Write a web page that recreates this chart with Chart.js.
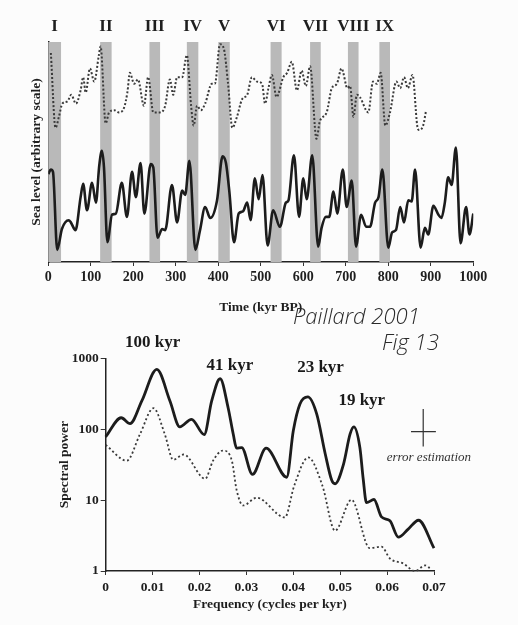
<!DOCTYPE html>
<html>
<head>
<meta charset="utf-8">
<script src="https://cdn.jsdelivr.net/npm/chart.js@4.4.0/dist/chart.umd.min.js"></script>
<style>
  html, body { margin: 0; padding: 0; background: #fcfcfc; }
  body { width: 518px; height: 625px; position: relative; overflow: hidden; }
  .box { position: absolute; left: 0; width: 518px; }
  .hand { position: absolute; font-family: "Open Sans", sans-serif; font-style: italic; font-weight: 300; color: #2a2a2a; white-space: nowrap; }
</style>
</head>
<body>
<div class="box" style="top:0;height:320px"><canvas id="seaChart"></canvas></div>
<div class="box" style="top:320px;height:305px"><canvas id="specChart"></canvas></div>
<div class="hand" style="left:293px;top:300px;font-size:22px">Paillard 2001</div>
<div class="hand" style="left:382px;top:326px;font-size:22px">Fig 13</div>
<script>
// --- top panel: sea level vs time (arbitrary scale) ---
const seaTime = [0, 6, 11, 21, 32, 48, 53, 64, 76, 82, 91, 103, 112, 120, 126, 131, 139, 150, 159, 173,
    185, 197, 206, 217, 226, 241, 247, 257, 268, 275, 291, 303, 315, 322, 332, 346, 357, 369, 381, 397,
    410, 418, 426, 437, 448, 458, 468, 476, 486, 495, 504, 516, 529, 545, 559, 565, 578, 590, 600, 608,
    621, 635, 643, 653, 661, 671, 680, 693, 702, 714, 724, 736, 748, 757, 769, 777, 786, 800, 809, 818,
    828, 837, 847, 855, 863, 876, 886, 894, 906, 918, 925, 933, 941, 949, 959, 970, 983, 991, 1000];
const seaLevel = [40, 42, 41, 5.5, 15, 19, 18, 14.5, 29.5, 35.5, 23.5, 36, 27, 44, 50.5, 43, 9, 21.5, 22, 36,
    20.5, 41, 29.5, 45, 22, 44.5, 43, 11, 15, 14.5, 35, 18, 32.5, 30.5, 46, 5.5, 14.5, 25, 20, 28,
    48, 45, 32, 9, 22, 23, 27, 19, 38, 28.5, 39.5, 7.5, 23.5, 16, 27, 28, 48.5, 20.5, 38, 28.5,
    48.5, 7, 15.5, 20.5, 20.5, 32, 22, 42, 25, 37, 7, 21.5, 16, 16, 27, 29.5, 42, 6.5, 13.5, 14.5,
    25, 18, 28, 27.5, 42, 6.5, 15.5, 12.5, 25.5, 21.5, 20, 27, 38.5, 35, 52, 8.5, 25, 12.5, 22];

const dotTime = [6, 17, 25, 33, 45, 54, 65, 76, 82, 88, 98, 108, 119, 123, 135, 143, 155, 166, 178, 186,
    192, 202, 211, 225, 235, 247, 263, 275, 286, 294, 303, 315, 326, 336, 342, 350, 359, 369, 385, 392,
    404, 413, 423, 433, 444, 456, 468, 479, 491, 503, 510, 518, 526, 537, 553, 562, 573, 585, 596, 606,
    616, 631, 639, 655, 667, 679, 690, 704, 710, 718, 726, 733, 753, 764, 773, 782, 793, 804, 819, 828,
    837, 846, 857, 868, 872, 882, 889];
const dotLevel = [95, 61, 66, 72, 73, 76, 72, 78, 84, 77, 88, 82, 94, 98, 63, 68, 69, 68, 70, 77,
    86, 81, 83, 71, 84, 68, 68, 71, 83, 76, 84, 84, 94, 71, 62, 71, 69, 72, 81, 81,
    99, 97, 81, 61, 66, 74, 76, 84, 82, 81, 72, 79, 85, 75, 84, 86, 91, 78, 87, 80,
    89, 56, 64, 68, 79, 81, 88, 79, 80, 66, 76, 75, 68, 82, 81, 86, 62, 68, 82, 79,
    84, 79, 85, 62, 60, 62, 69];

// glacial terminations (grey bands)
const termNames = ['I', 'II', 'III', 'IV', 'V', 'VI', 'VII', 'VIII', 'IX'];
const termStart = [0, 122, 238, 326, 400, 523, 616, 705, 779];
const termEnd = [30, 149, 263, 353, 427, 549, 641, 730, 804];

// --- bottom panel: spectra ---
const solidFreq = [0, 0.0033, 0.0052, 0.0077, 0.0109, 0.0137, 0.0158, 0.0183, 0.021, 0.0226, 0.0244, 0.0261, 0.0272,
    0.0279, 0.029, 0.0313, 0.0342, 0.0386, 0.04, 0.0414, 0.0431, 0.045, 0.0468, 0.0482, 0.0489, 0.0507,
    0.0521, 0.0529, 0.0542, 0.0549, 0.0556, 0.0572, 0.0588, 0.0606, 0.0624, 0.0645, 0.0667, 0.07];
const solidPower = [78, 145, 120, 250, 697, 250, 108, 138, 84, 250, 515, 201, 85,
    54, 55, 23, 54, 21, 95, 225, 285, 163, 45, 19, 17, 32,
    85, 108, 55, 20, 9.2, 10.2, 5.8, 5.1, 3.0, 3.9, 5.2, 2.1];

const dottedFreq = [0, 0.0045, 0.0073, 0.0102, 0.0126, 0.0144, 0.0166, 0.0212, 0.0229, 0.025, 0.0269, 0.0279, 0.0293,
    0.0322, 0.0382, 0.0402, 0.0432, 0.0462, 0.0489, 0.0524, 0.0563, 0.0588, 0.0606, 0.0634, 0.066, 0.0681, 0.0691];
const dottedPower = [60, 36, 85, 198, 85, 37, 44, 20, 36, 50, 36, 14, 8.4,
    10.8, 5.7, 16, 40, 16, 3.7, 10.1, 2.1, 2.2, 1.5, 1.28, 1.0, 1.2, 1.1];

const peakNames = ['100 kyr', '41 kyr', '23 kyr', '19 kyr'];
const peakFreq = [0.01, 0.0265, 0.0458, 0.0546];
const peakPower = [1660, 780, 740, 252];

const powerTicks = [1, 10, 100, 1000];

// error bar (frequency, power)
const errFreq = [0.0651, 0.0677, 0.0704];
const errPower = [57, 92.5, 193];

Chart.defaults.font.family = '"Liberation Serif", "Times New Roman", serif';
Chart.defaults.color = '#1e1e1e';

const serif = '"Liberation Serif", "Times New Roman", serif';

const termBands = {
    id: 'termBands',
    beforeDatasetsDraw(chart) {
        const { ctx, chartArea, scales: { x } } = chart;
        ctx.save();
        ctx.fillStyle = '#b9b9b9';
        termStart.forEach((s, i) => {
            const x0 = x.getPixelForValue(s);
            const x1 = x.getPixelForValue(termEnd[i]);
            ctx.fillRect(x0, chartArea.top, x1 - x0, chartArea.bottom - chartArea.top);
        });
        ctx.restore();
    },
    afterDraw(chart) {
        const { ctx, chartArea, scales: { x } } = chart;
        ctx.save();
        ctx.font = 'bold 17px ' + serif;
        ctx.fillStyle = '#1e1e1e';
        ctx.textAlign = 'center';
        ctx.textBaseline = 'middle';
        termNames.forEach((name, i) => {
            ctx.fillText(name, x.getPixelForValue((termStart[i] + termEnd[i]) / 2), chartArea.top - 15);
        });
        ctx.restore();
    }
};

new Chart(document.getElementById('seaChart'), {
    type: 'line',
    data: {
        datasets: [
            {
                data: seaTime.map((t, i) => ({ x: t, y: seaLevel[i] })),
                borderColor: '#1c1c1c',
                borderWidth: 2.6,
                pointRadius: 0,
                cubicInterpolationMode: 'monotone'
            },
            {
                data: dotTime.map((t, i) => ({ x: t, y: dotLevel[i] })),
                borderColor: '#3a3a3a',
                borderWidth: 2,
                borderDash: [2, 2],
                pointRadius: 0,
                cubicInterpolationMode: 'monotone'
            }
        ]
    },
    options: {
        responsive: true,
        maintainAspectRatio: false,
        animation: false,
        layout: { padding: { top: 42, right: 44.7, left: 0, bottom: 0 } },
        plugins: { legend: { display: false }, tooltip: { enabled: false } },
        scales: {
            x: {
                type: 'linear',
                min: 0,
                max: 1000,
                ticks: { stepSize: 100, font: { size: 14, weight: 'bold' }, padding: 3, maxRotation: 0, callback: v => String(v) },
                grid: { drawOnChartArea: false, tickLength: 4, color: '#333' },
                border: { color: '#222', width: 1.5 },
                title: { display: true, text: 'Time (kyr BP)', font: { size: 13.5, weight: 'bold' }, padding: { bottom: 4.5 } },
                afterFit(scale) { scale.height = 58; }
            },
            y: {
                min: 0,
                max: 100,
                ticks: { display: false },
                grid: { display: false },
                border: { color: '#222', width: 1.5 },
                title: { display: true, text: 'Sea level (arbitrary scale)', font: { size: 13.5, weight: 'bold' }, padding: { top: 28 } },
                afterFit(scale) { scale.width = 48.3; }
            }
        }
    },
    plugins: [termBands]
});

const specNotes = {
    id: 'specNotes',
    afterDraw(chart) {
        const { ctx, scales: { x, y } } = chart;
        ctx.save();
        ctx.fillStyle = '#1a1a1a';
        ctx.textAlign = 'center';
        ctx.textBaseline = 'middle';
        ctx.font = 'bold 17px ' + serif;
        peakNames.forEach((name, i) => {
            ctx.fillText(name, x.getPixelForValue(peakFreq[i]), y.getPixelForValue(peakPower[i]));
        });
        // error estimation cross
        const cx = x.getPixelForValue(errFreq[1]);
        const cy = y.getPixelForValue(errPower[1]);
        ctx.strokeStyle = '#333';
        ctx.lineWidth = 1.2;
        ctx.beginPath();
        ctx.moveTo(x.getPixelForValue(errFreq[0]), cy);
        ctx.lineTo(x.getPixelForValue(errFreq[2]), cy);
        ctx.moveTo(cx, y.getPixelForValue(errPower[2]));
        ctx.lineTo(cx, y.getPixelForValue(errPower[0]));
        ctx.stroke();
        ctx.font = 'italic 13px ' + serif;
        ctx.fillStyle = '#333';
        ctx.fillText('error estimation', x.getPixelForValue(0.0689), y.getPixelForValue(40));
        ctx.restore();
    }
};

new Chart(document.getElementById('specChart'), {
    type: 'line',
    data: {
        datasets: [
            {
                data: solidFreq.map((f, i) => ({ x: f, y: solidPower[i] })),
                borderColor: '#1c1c1c',
                borderWidth: 2.8,
                pointRadius: 0,
                cubicInterpolationMode: 'monotone',
                clip: false
            },
            {
                data: dottedFreq.map((f, i) => ({ x: f, y: dottedPower[i] })),
                borderColor: '#3a3a3a',
                borderWidth: 1.8,
                borderDash: [2, 2.5],
                pointRadius: 0,
                cubicInterpolationMode: 'monotone',
                clip: false
            }
        ]
    },
    options: {
        responsive: true,
        maintainAspectRatio: false,
        animation: false,
        layout: { padding: { top: 38.3, right: 84, left: 0, bottom: 0 } },
        plugins: { legend: { display: false }, tooltip: { enabled: false } },
        scales: {
            x: {
                type: 'linear',
                min: 0,
                max: 0.07,
                ticks: {
                    stepSize: 0.01,
                    font: { size: 13.5, weight: 'bold' },
                    padding: 4.5,
                    maxRotation: 0,
                    callback: v => (v === 0 ? '0' : v.toFixed(2))
                },
                grid: { drawOnChartArea: false, tickLength: 4, color: '#333' },
                border: { color: '#222', width: 1.5 },
                title: { display: true, text: 'Frequency (cycles per kyr)', font: { size: 13.5, weight: 'bold' }, padding: { bottom: 11.9 } },
                afterFit(scale) { scale.height = 54; }
            },
            y: {
                type: 'logarithmic',
                min: 1,
                max: 1000,
                afterBuildTicks(scale) { scale.ticks = powerTicks.map(v => ({ value: v })); },
                ticks: { font: { size: 13.5, weight: 'bold' }, padding: 2, callback: v => String(v) },
                grid: { drawOnChartArea: false, tickLength: 5, color: '#333' },
                border: { color: '#222', width: 1.5 },
                title: { display: true, text: 'Spectral power', font: { size: 13.5, weight: 'bold' }, padding: { top: 56 } },
                afterFit(scale) { scale.width = 105.7; }
            }
        }
    },
    plugins: [specNotes]
});
</script>
</body>
</html>
